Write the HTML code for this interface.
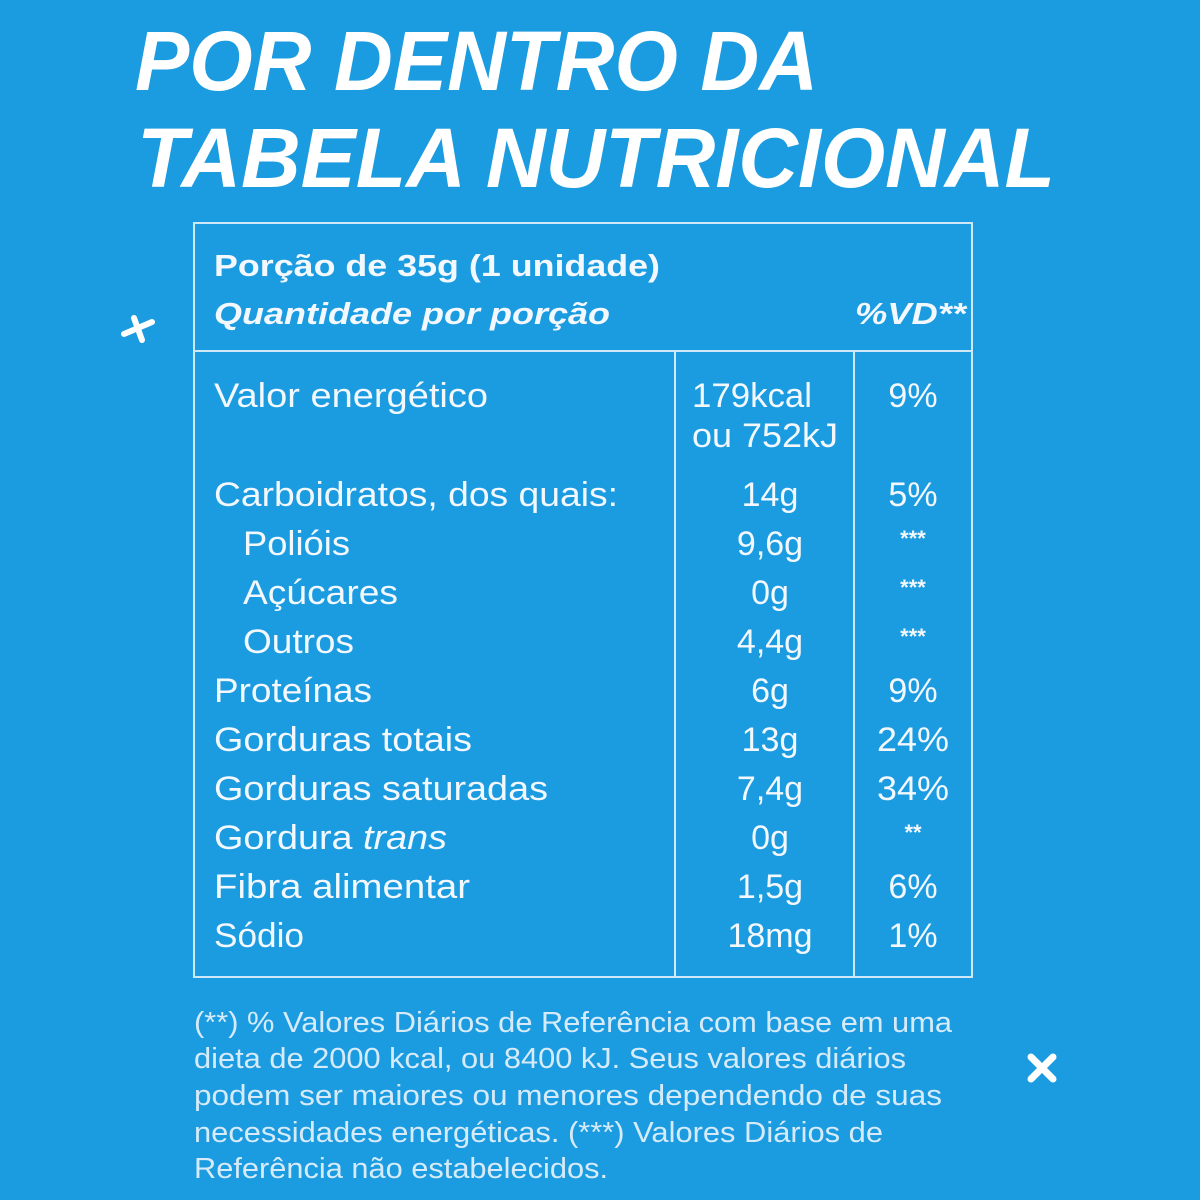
<!DOCTYPE html>
<html><head><meta charset="utf-8"><style>
html,body{margin:0;padding:0;background:#1b9be0;}
svg{display:block}
text{font-family:"Liberation Sans",sans-serif;fill:#f2f8fd;}
.t{font-weight:bold;font-style:italic;font-size:84px;fill:#fff;}
.r{font-size:34px;}
.f{font-size:29px;fill:#d6ebf9;}
</style></head><body>
<svg width="1200" height="1200" viewBox="0 0 1200 1200">
<rect width="1200" height="1200" fill="#1b9be0"/>
<text class="t" x="135" y="90" textLength="683" lengthAdjust="spacingAndGlyphs">POR DENTRO DA</text>
<text class="t" x="137" y="187" textLength="918" lengthAdjust="spacingAndGlyphs">TABELA NUTRICIONAL</text>
<g stroke="#cfe8f8" stroke-width="2" fill="none">
<rect x="194" y="223" width="778" height="754"/>
<line x1="194" y1="351" x2="972" y2="351"/>
<line x1="675" y1="351" x2="675" y2="977"/>
<line x1="854" y1="351" x2="854" y2="977"/>
</g>
<g stroke="#fff" stroke-width="6" stroke-linecap="round">
<line x1="124" y1="334" x2="152" y2="322"/><line x1="134" y1="318" x2="142" y2="340"/>
</g>
<g stroke="#fff" stroke-width="7" stroke-linecap="round">
<line x1="1031" y1="1057" x2="1053" y2="1079"/><line x1="1053" y1="1057" x2="1031" y2="1079"/>
</g>
<text x="214" y="276" font-size="31" font-weight="bold" textLength="446" lengthAdjust="spacingAndGlyphs">Porção de 35g (1 unidade)</text>
<text x="214" y="324" font-size="31" font-weight="bold" font-style="italic" textLength="396" lengthAdjust="spacingAndGlyphs">Quantidade por porção</text>
<text x="855" y="324" font-size="31" font-weight="bold" font-style="italic" textLength="111" lengthAdjust="spacingAndGlyphs">%VD**</text>
<g class="r">
<text x="214" y="407" class="r" textLength="274" lengthAdjust="spacingAndGlyphs">Valor energético</text>
<text x="692" y="407" class="r" textLength="120" lengthAdjust="spacingAndGlyphs">179kcal</text>
<text x="692" y="447" class="r" textLength="146" lengthAdjust="spacingAndGlyphs">ou 752kJ</text>
<text x="913" y="407" class="r" text-anchor="middle">9%</text>
<text x="214" y="506" class="r" textLength="404" lengthAdjust="spacingAndGlyphs">Carboidratos, dos quais:</text><text x="770" y="506" class="r" text-anchor="middle">14g</text><text x="913" y="506" class="r" text-anchor="middle">5%</text>
<text x="243" y="555" class="r" textLength="107" lengthAdjust="spacingAndGlyphs">Polióis</text><text x="770" y="555" class="r" text-anchor="middle">9,6g</text><text x="913" y="546" font-size="22" font-weight="bold" text-anchor="middle">***</text>
<text x="243" y="604" class="r" textLength="155" lengthAdjust="spacingAndGlyphs">Açúcares</text><text x="770" y="604" class="r" text-anchor="middle">0g</text><text x="913" y="595" font-size="22" font-weight="bold" text-anchor="middle">***</text>
<text x="243" y="653" class="r" textLength="111" lengthAdjust="spacingAndGlyphs">Outros</text><text x="770" y="653" class="r" text-anchor="middle">4,4g</text><text x="913" y="644" font-size="22" font-weight="bold" text-anchor="middle">***</text>
<text x="214" y="702" class="r" textLength="158" lengthAdjust="spacingAndGlyphs">Proteínas</text><text x="770" y="702" class="r" text-anchor="middle">6g</text><text x="913" y="702" class="r" text-anchor="middle">9%</text>
<text x="214" y="751" class="r" textLength="258" lengthAdjust="spacingAndGlyphs">Gorduras totais</text><text x="770" y="751" class="r" text-anchor="middle">13g</text><text x="913" y="751" class="r" text-anchor="middle" textLength="72" lengthAdjust="spacingAndGlyphs">24%</text>
<text x="214" y="800" class="r" textLength="334" lengthAdjust="spacingAndGlyphs">Gorduras saturadas</text><text x="770" y="800" class="r" text-anchor="middle">7,4g</text><text x="913" y="800" class="r" text-anchor="middle" textLength="72" lengthAdjust="spacingAndGlyphs">34%</text>
<text x="214" y="849" class="r" textLength="233" lengthAdjust="spacingAndGlyphs">Gordura <tspan font-style="italic">trans</tspan></text><text x="770" y="849" class="r" text-anchor="middle">0g</text><text x="913" y="840" font-size="22" font-weight="bold" text-anchor="middle">**</text>
<text x="214" y="898" class="r" textLength="256" lengthAdjust="spacingAndGlyphs">Fibra alimentar</text><text x="770" y="898" class="r" text-anchor="middle">1,5g</text><text x="913" y="898" class="r" text-anchor="middle">6%</text>
<text x="214" y="947" class="r" textLength="90" lengthAdjust="spacingAndGlyphs">Sódio</text><text x="770" y="947" class="r" text-anchor="middle">18mg</text><text x="913" y="947" class="r" text-anchor="middle">1%</text>
</g>
<g>
<text class="f" x="194" y="1032" textLength="758" lengthAdjust="spacingAndGlyphs">(**) % Valores Diários de Referência com base em uma</text>
<text class="f" x="194" y="1068" textLength="712" lengthAdjust="spacingAndGlyphs">dieta de 2000 kcal, ou 8400 kJ. Seus valores diários</text>
<text class="f" x="194" y="1105" textLength="748" lengthAdjust="spacingAndGlyphs">podem ser maiores ou menores dependendo de suas</text>
<text class="f" x="194" y="1142" textLength="689" lengthAdjust="spacingAndGlyphs">necessidades energéticas. (***) Valores Diários de</text>
<text class="f" x="194" y="1178" textLength="414" lengthAdjust="spacingAndGlyphs">Referência  não estabelecidos.</text>
</g>
</svg>
</body></html>
